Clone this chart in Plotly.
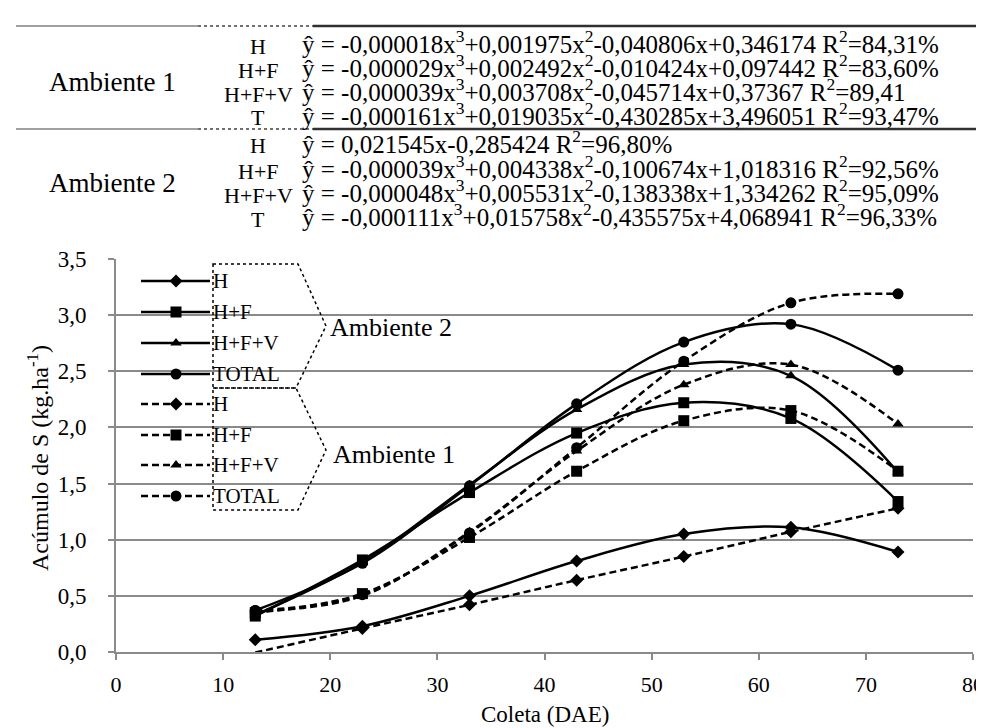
import plotly.graph_objects as go

# ---------------- data ----------------
days = [13, 23, 33, 43, 53, 63, 73]

# Ambiente 2 (solid lines)
amb2_H = [0.11, 0.23, 0.50, 0.81, 1.05, 1.11, 0.89]
amb2_HF = [0.32, 0.82, 1.42, 1.95, 2.22, 2.08, 1.34]
amb2_HFV = [0.33, 0.80, 1.49, 2.16, 2.56, 2.46, 1.60]
amb2_TOTAL = [0.37, 0.79, 1.48, 2.21, 2.76, 2.92, 2.51]

# Ambiente 1 (dashed lines)
amb1_H = [-0.005, 0.21, 0.42, 0.64, 0.85, 1.07, 1.28]
amb1_HF = [0.35, 0.52, 1.02, 1.61, 2.06, 2.15, 1.61]
amb1_HFV = [0.36, 0.50, 1.07, 1.79, 2.38, 2.56, 2.03]
amb1_TOTAL = [0.37, 0.51, 1.06, 1.82, 2.59, 3.11, 3.19]

series_names = ["H", "H+F", "H+F+V", "TOTAL"]
symbols = ["diamond", "square", "triangle-up", "circle"]
msizes = [10, 11, 10, 11]

eq_groups = ["Ambiente 1", "Ambiente 2"]
eq_labels = ["H", "H+F", "H+F+V", "T"]
eq_amb1 = [
    "ŷ = -0,000018x<sup>3</sup>+0,001975x<sup>2</sup>-0,040806x+0,346174 R<sup>2</sup>=84,31%",
    "ŷ = -0,000029x<sup>3</sup>+0,002492x<sup>2</sup>-0,010424x+0,097442 R<sup>2</sup>=83,60%",
    "ŷ = -0,000039x<sup>3</sup>+0,003708x<sup>2</sup>-0,045714x+0,37367 R<sup>2</sup>=89,41",
    "ŷ = -0,000161x<sup>3</sup>+0,019035x<sup>2</sup>-0,430285x+3,496051 R<sup>2</sup>=93,47%",
]
eq_amb2 = [
    "ŷ = 0,021545x-0,285424 R<sup>2</sup>=96,80%",
    "ŷ = -0,000039x<sup>3</sup>+0,004338x<sup>2</sup>-0,100674x+1,018316 R<sup>2</sup>=92,56%",
    "ŷ = -0,000048x<sup>3</sup>+0,005531x<sup>2</sup>-0,138338x+1,334262 R<sup>2</sup>=95,09%",
    "ŷ = -0,000111x<sup>3</sup>+0,015758x<sup>2</sup>-0,435575x+4,068941 R<sup>2</sup>=96,33%",
]

# ---------------- layout geometry (pixels) ----------------
W, H = 984, 728
L, R, T, B = 108, 19, 251, 84
PW, PH = W - L - R, H - T - B
FONT = "Liberation Serif"


def px(x):
    return (x - L) / PW


def py(y):
    return (H - B - y) / PH


fig = go.Figure()

solid = [amb2_H, amb2_HF, amb2_HFV, amb2_TOTAL]
dashed = [amb1_H, amb1_HF, amb1_HFV, amb1_TOTAL]

for i, ys in enumerate(solid):
    fig.add_trace(go.Scatter(
        x=days, y=ys, mode="lines", name=series_names[i],
        line=dict(color="black", width=2.5, shape="spline", smoothing=1.0),
        showlegend=False))
for i, ys in enumerate(dashed):
    fig.add_trace(go.Scatter(
        x=days, y=ys, mode="lines", name=series_names[i],
        line=dict(color="black", width=2.5, dash="7px,4px", shape="spline", smoothing=1.0),
        showlegend=False))
for i, ys in enumerate(solid):
    fig.add_trace(go.Scatter(
        x=days, y=ys, mode="markers", name=series_names[i],
        marker=dict(symbol=symbols[i], size=msizes[i], color="#000000",
                    line=dict(width=0), opacity=1),
        showlegend=False, cliponaxis=False))
for i, ys in enumerate(dashed):
    xs = days if i else days[1:]
    yv = ys if i else ys[1:]  # first H point lies below the axis and is not drawn
    fig.add_trace(go.Scatter(
        x=xs, y=yv, mode="markers", name=series_names[i],
        marker=dict(symbol=symbols[i], size=msizes[i], color="#000000",
                    line=dict(width=0), opacity=1),
        showlegend=False, cliponaxis=False))

shapes = []
annotations = []

# ---------------- manual legend ----------------
row_y = [273, 304, 335, 366, 396, 427, 457, 488]
for k in range(8):
    yy = row_y[k]
    dash = "solid" if k < 4 else "7px,4px"
    shapes.append(dict(type="line", xref="paper", yref="paper",
                       x0=px(133), x1=px(202), y0=py(yy), y1=py(yy),
                       line=dict(color="black", width=2.5, dash=dash)))
    fig.add_trace(go.Scatter(
        x=[px(168)], y=[py(yy)], xaxis="x2", yaxis="y2", mode="markers",
        marker=dict(symbol=symbols[k % 4], size=msizes[k % 4], color="#000000",
                    line=dict(width=0)),
        showlegend=False, hoverinfo="skip"))
    annotations.append(dict(text=series_names[k % 4], xref="paper", yref="paper",
                            x=px(203), y=py(yy), xanchor="left", yanchor="middle",
                            showarrow=False, font=dict(family=FONT, size=21, color="black")))


def pth(points):
    return "M " + " L ".join(f"{px(a):.5f},{py(b):.5f}" for a, b in points)


shapes.append(dict(type="path", xref="paper", yref="paper",
                   path=pth([(205, 256), (290, 256), (318, 318), (288, 380), (205, 380)]) + " Z",
                   line=dict(color="black", width=1.5, dash="dot")))
shapes.append(dict(type="path", xref="paper", yref="paper",
                   path=pth([(205, 380), (288, 380), (318, 442), (290, 502), (205, 502)]) + " Z",
                   line=dict(color="black", width=1.5, dash="dot")))
annotations.append(dict(text="Ambiente 2", xref="paper", yref="paper", x=px(320), y=py(319),
                        xanchor="left", yanchor="middle", showarrow=False,
                        font=dict(family=FONT, size=26, color="black")))
annotations.append(dict(text="Ambiente 1", xref="paper", yref="paper", x=px(323), y=py(446),
                        xanchor="left", yanchor="middle", showarrow=False,
                        font=dict(family=FONT, size=26, color="black")))

# ---------------- header table ----------------
for ly in (18, 121):
    shapes.append(dict(type="line", xref="paper", yref="paper", x0=px(8), x1=px(190),
                       y0=py(ly), y1=py(ly), line=dict(color="#a0a0a0", width=2)))
    shapes.append(dict(type="line", xref="paper", yref="paper", x0=px(190), x1=px(305),
                       y0=py(ly), y1=py(ly), line=dict(color="#707070", width=2, dash="dot")))
    shapes.append(dict(type="line", xref="paper", yref="paper", x0=px(305), x1=px(984),
                       y0=py(ly), y1=py(ly), line=dict(color="#303030", width=2.5)))

rows1 = [34, 58, 82, 106]
rows2 = [134, 159, 183, 207]
for rows, eqs, grp in ((rows1, eq_amb1, eq_groups[0]), (rows2, eq_amb2, eq_groups[1])):
    annotations.append(dict(text=grp, xref="paper", yref="paper", x=px(104),
                            y=py((rows[1] + rows[2]) / 2 + 4), xanchor="center", yanchor="middle",
                            showarrow=False, font=dict(family=FONT, size=27, color="black")))
    for j in range(4):
        annotations.append(dict(text=eq_labels[j], xref="paper", yref="paper", x=px(250),
                                y=py(rows[j] + 4), xanchor="center", yanchor="middle",
                                showarrow=False, font=dict(family=FONT, size=22, color="black")))
        annotations.append(dict(text=eqs[j], xref="paper", yref="paper", x=px(292),
                                y=py(rows[j]), xanchor="left", yanchor="middle",
                                showarrow=False, font=dict(family=FONT, size=25, color="black")))

# axis titles
annotations.append(dict(text="Coleta (DAE)", xref="paper", yref="paper", x=px(537), y=py(706),
                        xanchor="center", yanchor="middle", showarrow=False,
                        font=dict(family=FONT, size=23, color="black")))
annotations.append(dict(text="Acúmulo de S (kg.ha<sup>-1</sup>)", xref="paper", yref="paper",
                        x=px(30), y=py(450), xanchor="center", yanchor="middle", textangle=-90,
                        showarrow=False, font=dict(family=FONT, size=24, color="black")))

grid_col = "#8a8a8a"
fig.update_layout(
    width=W, height=H,
    margin=dict(l=L, r=R, t=T, b=B, autoexpand=False),
    paper_bgcolor="white", plot_bgcolor="white",
    separators=",.",
    font=dict(family=FONT, size=23, color="black"),
    shapes=shapes, annotations=annotations,
    xaxis=dict(range=[0, 80], dtick=10, tick0=0, showgrid=False, zeroline=False,
               showline=True, linecolor=grid_col, linewidth=2, automargin=False,
               ticks="outside", ticklen=6, tickwidth=2, tickcolor=grid_col,
               ticklabelstandoff=6, tickfont=dict(family=FONT, size=22)),
    yaxis=dict(range=[0, 3.5], dtick=0.5, tick0=0, tickformat=".1f",
               showgrid=True, gridcolor=grid_col, gridwidth=2, zeroline=False,
               showline=True, linecolor=grid_col, linewidth=2, automargin=False,
               ticks="outside", ticklen=6, tickwidth=2, tickcolor=grid_col,
               ticklabelstandoff=17, tickfont=dict(family=FONT, size=23)),
    xaxis2=dict(range=[0, 1], overlaying="x", visible=False, fixedrange=True),
    yaxis2=dict(range=[0, 1], overlaying="y", visible=False, fixedrange=True),
    showlegend=False,
)

fig.write_html("out.html")
